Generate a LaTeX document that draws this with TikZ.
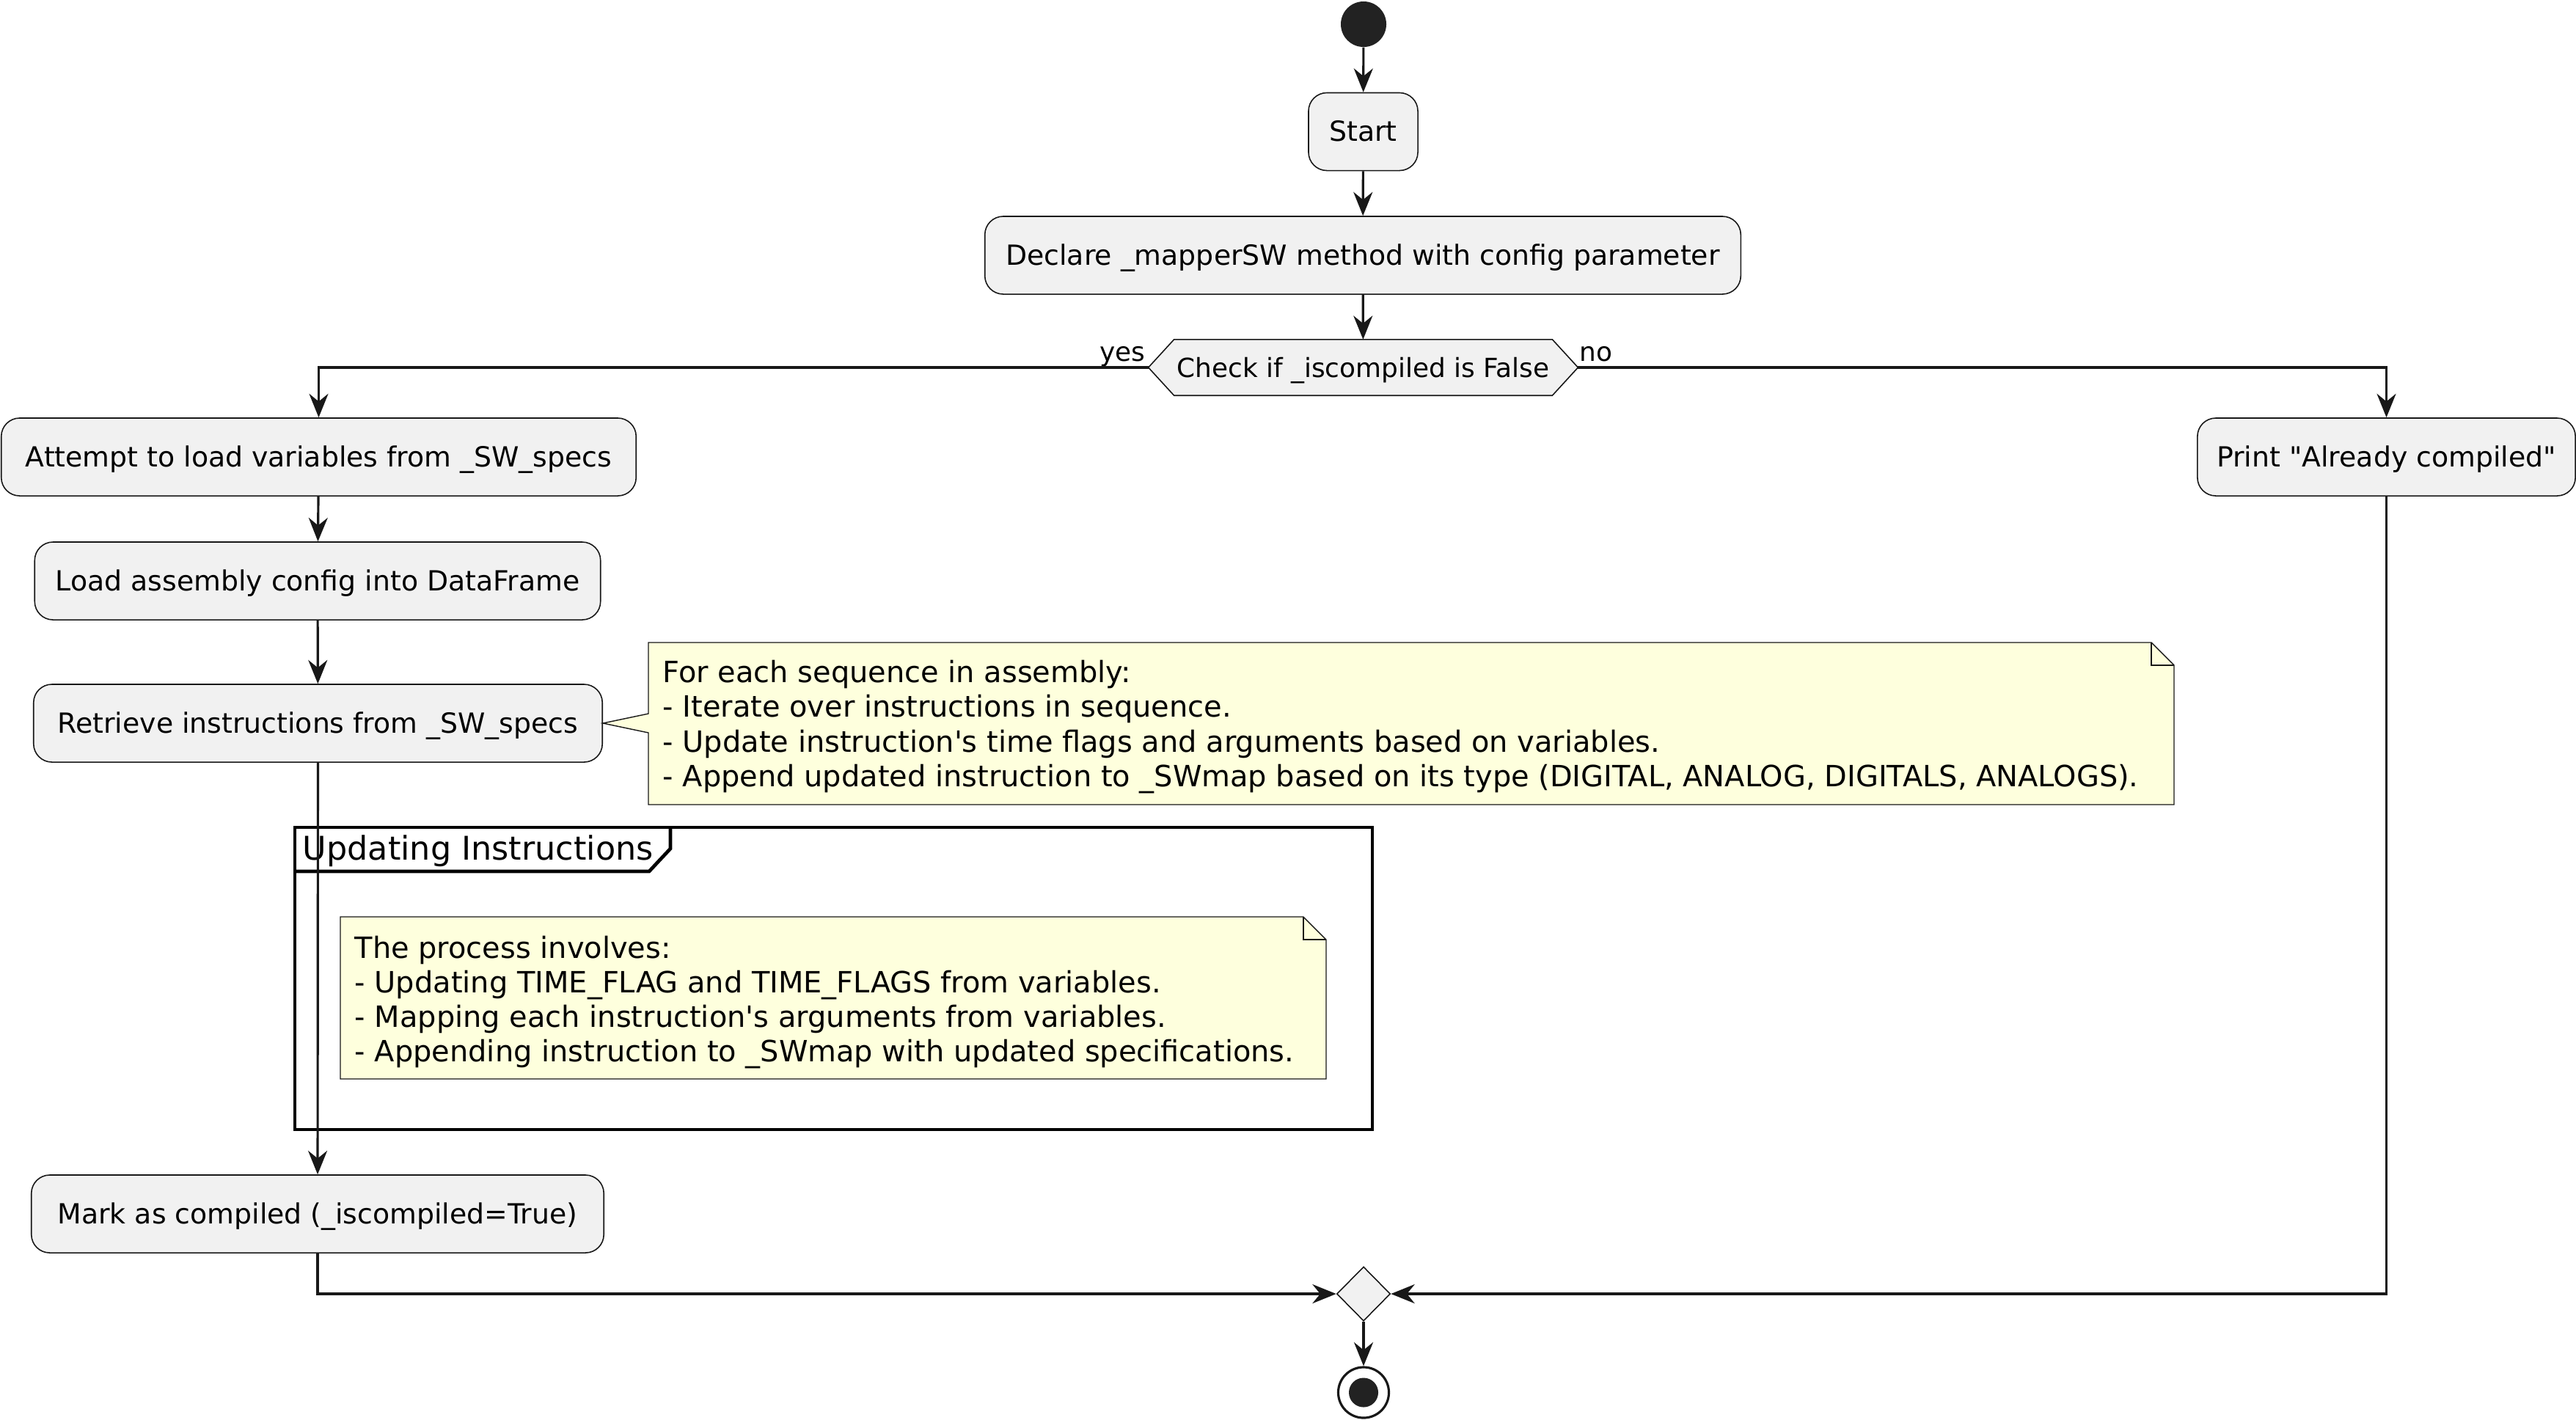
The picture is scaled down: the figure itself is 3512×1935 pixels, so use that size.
\documentclass[tikz,border=0pt]{standalone}
\usepackage{fontspec}
\setmainfont{DejaVu Sans}
\usetikzlibrary{arrows.meta,calc,shapes.geometric,backgrounds}
\definecolor{boxfill}{HTML}{F1F1F1}
\definecolor{ink}{HTML}{181818}
\definecolor{notefill}{HTML}{FEFFDD}
\definecolor{dot}{HTML}{222222}

\begin{document}
\begin{tikzpicture}[x=0.01cm,y=-0.01cm,
  act/.style={draw=ink, fill=boxfill, line width=0.45pt, rounded corners=0.25cm,
    minimum height=1.06cm, inner sep=0pt, text height=0.76em, text depth=0pt,
    font=\fontsize{10.75}{13}\selectfont},
  hexnode/.style={minimum width=5.84cm, minimum height=0.75cm, inner sep=0pt,
    text height=0.76em, text depth=0pt, font=\fontsize{10.2}{12}\selectfont},
  hexline/.style={draw=ink, fill=boxfill, line width=0.45pt},
  flow/.style={draw=ink, line width=0.9pt, -{Stealth[length=9.2pt,width=7.4pt,inset=3pt]}},
  notebody/.style={draw=ink, fill=notefill, line width=0.4pt},
  notetext/.style={font=\fontsize{11.35}{13.45}\selectfont, align=left, anchor=north west, inner sep=0pt},
  frameline/.style={draw=black, line width=1.35pt},
  lbl/.style={font=\fontsize{10.2}{12}\selectfont, inner sep=0pt},
]
\useasboundingbox (0,0) rectangle (3512,1935);

% group frame with its title tab
\draw[frameline] (402,1128) rectangle (1871,1540);
\draw[frameline] (402,1188) -- (885,1188) -- (914,1157) -- (914,1128);
\node[font=\fontsize{12.65}{15}\selectfont, anchor=base west, inner sep=0pt] (grouptitle) at (412,1172) {Updating Instructions};

% note inside the group
\draw[notebody] (464,1250) -- (1777,1250) -- (1808,1281) -- (1808,1471) -- (464,1471) -- cycle;
\draw[notebody, fill=none] (1777,1250) -- (1777,1281) -- (1808,1281);
\node[notetext] (note2) at (483,1275) {The process involves:\\
- Updating TIME\_FLAG and TIME\_FLAGS from variables.\\
- Mapping each instruction\textquotesingle s arguments from variables.\\
- Appending instruction to \_SWmap with updated specifications.};

% activities
\node[circle, fill=dot, minimum size=0.62cm, inner sep=0pt] (start) at (1859,33) {};
\node[act, minimum width=1.49cm] (startbox) at (1858.5,179.5) {Start};
\node[act, minimum width=10.30cm] (declare) at (1858,348) {Declare \_mapperSW method with config parameter};
\node[hexnode] (hex) at (1858.5,501) {Check if \_iscompiled is False};
\begin{scope}[on background layer]
  \draw[hexline] (hex.west) -- ([xshift=0.35cm]hex.north west) -- ([xshift=-0.35cm]hex.north east)
    -- (hex.east) -- ([xshift=-0.35cm]hex.south east) -- ([xshift=0.35cm]hex.south west) -- cycle;
\end{scope}
\node[lbl, anchor=base east] (yes) at (1562,492) {yes};
\node[lbl, anchor=base west] (no) at (2153,492) {no};

\node[act, minimum width=8.65cm] (attempt) at (434.5,623) {Attempt to load variables from \_SW\_specs};
\node[act, minimum width=5.15cm] (print) at (3253.5,623) {Print \textquotedbl Already compiled\textquotedbl};
\node[act, minimum width=7.71cm] (load) at (433,792) {Load assembly config into DataFrame};
\node[act, minimum width=7.75cm] (retrieve) at (433.5,986) {Retrieve instructions from \_SW\_specs};
\node[act, minimum width=7.80cm] (mark) at (433,1655) {Mark as compiled (\_iscompiled=True)};

\node[diamond, draw=ink, fill=boxfill, line width=0.45pt, minimum width=0.73cm, minimum height=0.74cm, inner sep=0pt] (merge) at (1859,1764) {};
\node[circle, draw=ink, fill=white, line width=0.9pt, minimum size=0.69cm, inner sep=0pt] (stop) at (1859,1898.5) {};
\fill[dot] (stop.center) circle[radius=0.2cm];

% note attached to the retrieval step
\draw[notebody] (884,876) -- (2933,876) -- (2964,907) -- (2964,1097) -- (884,1097) -- (884,999)
  -- (retrieve.east) -- (884,973) -- cycle;
\draw[notebody, fill=none] (2933,876) -- (2933,907) -- (2964,907);
\node[notetext] (note1) at (903,899.5) {For each sequence in assembly:\\
- Iterate over instructions in sequence.\\
- Update instruction\textquotesingle s time flags and arguments based on variables.\\
- Append updated instruction to \_SWmap based on its type (DIGITAL, ANALOG, DIGITALS, ANALOGS).};

% connectors
\draw[flow] (start) -- (startbox);
\draw[flow] (startbox) -- (declare);
\draw[flow] (declare) -- (hex);
\draw[flow] (hex.west) -| (attempt.north);
\draw[flow] (hex.east) -| (print.north);
\draw[flow] (attempt) -- (load);
\draw[flow] (load) -- (retrieve);
\draw[flow] (retrieve) -- (mark);
\draw[flow] (mark.south) |- (merge.west);
\draw[flow] (print.south) |- (merge.east);
\draw[flow] (merge) -- (stop);
\end{tikzpicture}
\end{document}
